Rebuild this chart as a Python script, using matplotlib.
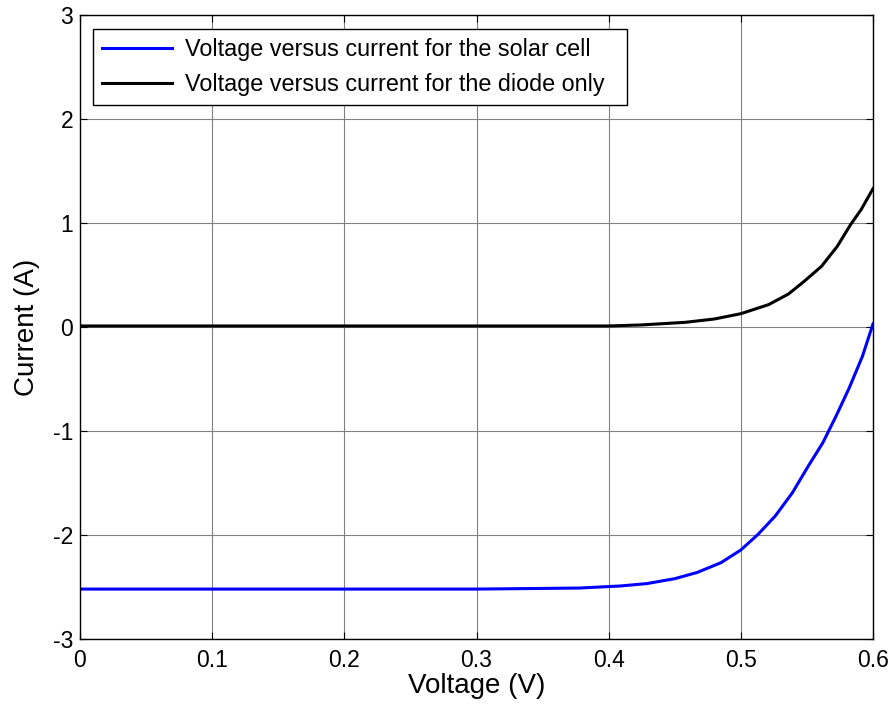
import numpy as np
import matplotlib
matplotlib.use('Agg')
import matplotlib.pyplot as plt

plt.rcParams['font.family'] = ['Liberation Sans', 'DejaVu Sans']

# values
v_diode = [0.0, 0.10, 0.20, 0.30, 0.40, 0.425, 0.458, 0.480, 0.500, 0.521, 0.536,
           0.548, 0.561, 0.573, 0.583, 0.591, 0.600]
i_diode = [0.01, 0.01, 0.01, 0.01, 0.01, 0.02, 0.045, 0.077, 0.128, 0.215, 0.317,
           0.44, 0.583, 0.776, 0.984, 1.128, 1.33]

v_cell = [0.0, 0.10, 0.20, 0.30, 0.378, 0.409, 0.429, 0.450, 0.467, 0.485, 0.500,
          0.513, 0.526, 0.539, 0.551, 0.562, 0.572, 0.582, 0.592, 0.600]
i_cell = [-2.52, -2.52, -2.52, -2.52, -2.51, -2.49, -2.467, -2.42, -2.36, -2.266, -2.144,
          -1.994, -1.818, -1.594, -1.338, -1.114, -0.858, -0.586, -0.282, 0.03]

x_ticks = [0, 0.1, 0.2, 0.3, 0.4, 0.5, 0.6]
x_labels = ['0', '0.1', '0.2', '0.3', '0.4', '0.5', '0.6']
y_ticks = [-3, -2, -1, 0, 1, 2, 3]
y_labels = ['-3', '-2', '-1', '0', '1', '2', '3']

fig = plt.figure(figsize=(8.93, 7.12), dpi=100)
ax = fig.add_axes([80 / 893, 73 / 712, 793 / 893, 624 / 712])

ax.plot(v_cell, i_cell, color='#0000ff', lw=2.2,
        label='Voltage versus current for the solar cell')
ax.plot(v_diode, i_diode, color='black', lw=2.2,
        label='Voltage versus current for the diode only')

ax.set_xlim(0, 0.6)
ax.set_ylim(-3, 3)
ax.set_xticks(x_ticks)
ax.set_xticklabels(x_labels)
ax.set_yticks(y_ticks)
ax.set_yticklabels(y_labels)
ax.grid(True, color='#808080', lw=0.8)
ax.tick_params(direction='in', top=True, right=True, length=5, labelsize=16.5)
ax.tick_params(axis='x', pad=7)
ax.tick_params(axis='y', pad=5)
for s in ax.spines.values():
    s.set_linewidth(1.0)

ax.set_xlabel('Voltage (V)', fontsize=20, labelpad=1)
ax.set_ylabel('Current (A)', fontsize=20, labelpad=9)

# legend box spans roughly x 93..627 px, y 29..104 px
leg = ax.legend(loc='upper left', bbox_to_anchor=(0.0164, 0.8573, 0.673, 0.1203),
                mode='expand', borderaxespad=0,
                fontsize=16.8, handlelength=3.0, handletextpad=0.55, fancybox=False,
                framealpha=1, edgecolor='black', borderpad=0.4, labelspacing=0.5)
leg.get_frame().set_linewidth(1.0)

fig.savefig('out.png', dpi=100)
